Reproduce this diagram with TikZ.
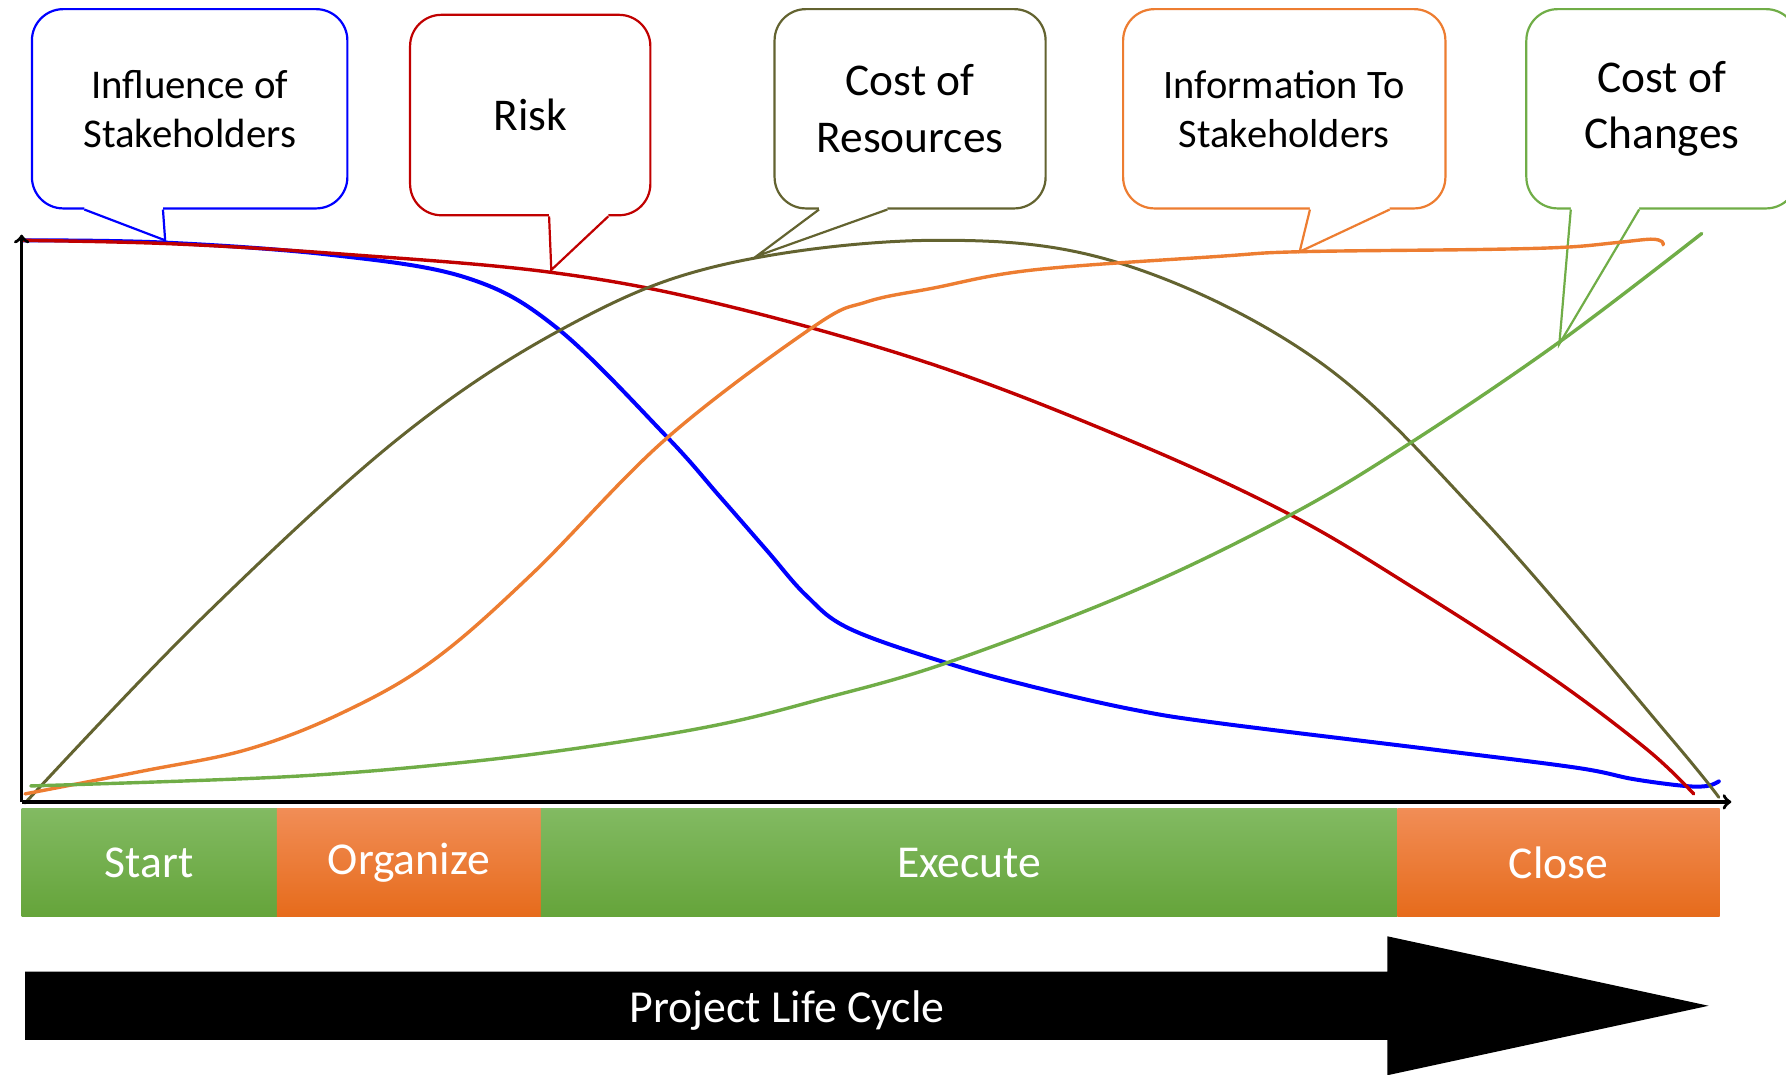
\documentclass[tikz,border=0pt]{standalone}
\usepackage{fontspec}
\setmainfont{Carlito}
\usepackage{tikz}
\usetikzlibrary{arrows,positioning,calc}

\definecolor{inflblue}{HTML}{0000FF}
\definecolor{riskred}{HTML}{C00000}
\definecolor{resolive}{HTML}{636330}
\definecolor{infoorange}{HTML}{ED7D31}
\definecolor{changegreen}{HTML}{70AD47}
\definecolor{greentop}{HTML}{82BA62}
\definecolor{greenbot}{HTML}{65A43A}
\definecolor{orangetop}{HTML}{F18D56}
\definecolor{orangebot}{HTML}{E66B1B}

\begin{document}
\begin{tikzpicture}[x=0.02cm,y=-0.02cm,>=to,
                    bubble/.style={draw, fill=white, line width=1.1pt, rounded corners=0.55cm,
                                   minimum height=3.5cm, align=center},
                    tail/.style={line width=1.1pt},
                    curve/.style={line width=1.7pt, line cap=round},
                    axis/.style={line width=1.7pt},
                    phase node/.style={minimum height=1.9cm, inner sep=0pt, outer sep=0pt,
                                       text=white, font=\fontsize{22.8}{26}\selectfont},
                    green phase/.style={phase node, top color=greentop, bottom color=greenbot},
                    orange phase/.style={phase node, top color=orangetop, bottom color=orangebot}]

  \useasboundingbox (0,0) rectangle (1568,943);

  %Callouts%
  \node[bubble, draw=inflblue, minimum width=5.54cm, font=\fontsize{20.4}{24.5}\selectfont]
       (1) at (166.5,95.5) {Influence of\\Stakeholders};
  \node[bubble, draw=riskred, minimum width=4.22cm, minimum height=3.52cm, font=\fontsize{22.7}{28}\selectfont]
       (2) at (465.5,101) {Risk};
  \node[bubble, draw=resolive, minimum width=4.76cm, font=\fontsize{22.7}{28.4}\selectfont]
       (3) at (799,95.5) {Cost of\\Resources};
  \node[bubble, draw=infoorange, minimum width=5.66cm, font=\fontsize{20.2}{24.5}\selectfont]
       (4) at (1127.5,95.5) {Information To\\Stakeholders};
  \node[bubble, draw=changegreen, minimum width=4.76cm, font=\fontsize{22.7}{28.4}\selectfont]
       (5) at (1459,95.5) {Cost of\\Changes};

  %Tails%
  \coordinate (t1) at (145,211);
  \coordinate (t2) at (484,237);
  \coordinate (t3) at (664,225);
  \coordinate (t4) at (1141,221);
  \coordinate (t5) at (1369,302);
  \fill[white] ($(1.south west)+(47,0)$) -- (t1) -- ($(1.south west)+(116,0)$) -- ++(0,-3) -- ($(1.south west)+(47,-3)$) -- cycle;
  \draw[tail, inflblue] ($(1.south west)+(47,0)$) -- (t1) -- ($(1.south west)+(116,0)$);
  \fill[white] ($(2.south west)+(123,0)$) -- (t2) -- ($(2.south west)+(175,0)$) -- ++(0,-3) -- ($(2.south west)+(123,-3)$) -- cycle;
  \draw[tail, riskred] ($(2.south west)+(123,0)$) -- (t2) -- ($(2.south west)+(175,0)$);
  \fill[white] ($(3.south west)+(40,0)$) -- (t3) -- ($(3.south west)+(100,0)$) -- ++(0,-3) -- ($(3.south west)+(40,-3)$) -- cycle;
  \draw[tail, resolive] ($(3.south west)+(40,0)$) -- (t3) -- ($(3.south west)+(100,0)$);
  \fill[white] ($(4.south west)+(165,0)$) -- (t4) -- ($(4.south west)+(235,0)$) -- ++(0,-3) -- ($(4.south west)+(165,-3)$) -- cycle;
  \draw[tail, infoorange] ($(4.south west)+(165,0)$) -- (t4) -- ($(4.south west)+(235,0)$);
  \fill[white] ($(5.south west)+(40,0)$) -- (t5) -- ($(5.south west)+(100,0)$) -- ++(0,-3) -- ($(5.south west)+(40,-3)$) -- cycle;
  \draw[tail, changegreen] ($(5.south west)+(40,0)$) -- (t5) -- ($(5.south west)+(100,0)$);

  %Curves%
  \draw[curve, inflblue, line width=2pt] plot[smooth, tension=0.6] coordinates {(20,211) (145,213) (293,224)
        (410,244) (489,288) (585,383) (632,436) (673,483) (708,523) (746,552) (831,582)
        (907,603) (995,623) (1071,635) (1258,658) (1384,674) (1434,684) (1479,690) (1499,690) (1509,686)};
  \draw[curve, riskred] plot[smooth, tension=0.6] coordinates {(20,211) (150,214) (300,223) (483,239) (632,267)
        (819,320) (995,388) (1133,452) (1244,518) (1361,594) (1446,658) (1487,697)};
  \draw[curve, resolive, line width=1.5pt] plot[smooth, tension=0.6] coordinates {(22,705) (176,544) (351,384)
        (497,287) (632,233) (819,211) (983,231) (1156,316) (1302,456) (1466,647) (1509,700)};
  \draw[curve, infoorange] plot[smooth, tension=0.6] coordinates {(22,697) (125,677) (217,658) (300,626) (380,580)
        (468,503) (585,385) (714,287) (761,265) (819,253) (907,237) (1071,225) (1141,221) (1302,219)
        (1375,217) (1419,213) (1449,210) (1459,212) (1460,215)};
  \draw[curve, changegreen] plot[smooth, tension=0.6] coordinates {(27,690) (250,682) (400,670) (520,655) (632,636)
        (720,614) (831,582) (995,519) (1133,452) (1238,389) (1368,301) (1494,205)};

  %Axes%
  \coordinate (o) at (19,704);
  \coordinate (ytop) at (19,206);
  \coordinate (xend) at (1520,704);
  \draw[axis,->] (o) -- (ytop);
  \draw[axis,->] (o) -- (xend);

  %Phases%
  \node[green phase, minimum width=4.48cm] (start) at (131,757.5) {Start};
  \node[orange phase, minimum width=4.64cm] (organize) [right=0pt of start] {Organize};
  \node[green phase, minimum width=15.04cm] (execute) [right=0pt of organize] {Execute};
  \node[orange phase, minimum width=5.66cm] (close) [right=0pt of execute] {Close};

  %Life cycle arrow%
  \fill (22,853) -- (1218,853) -- (1218,822) -- (1500,883) -- (1218,944) -- (1218,913) -- (22,913) -- cycle;
  \node[text=white, font=\fontsize{22.9}{27}\selectfont] (plc) at (691,887) {Project Life Cycle};
\end{tikzpicture}
\end{document}
